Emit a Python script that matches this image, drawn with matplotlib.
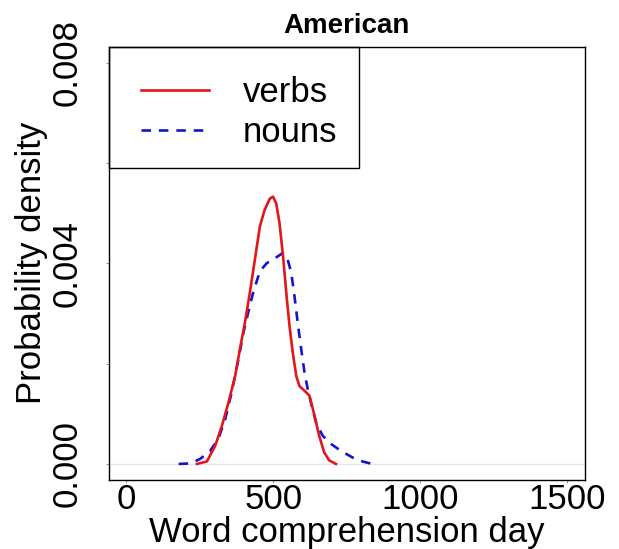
import matplotlib
matplotlib.use("Agg")
import matplotlib.pyplot as plt
from matplotlib.patches import Rectangle

plt.rcParams['font.family'] = ['Liberation Sans', 'DejaVu Sans']

# ---- data ----
verbs_x = [240, 274, 302, 325, 347, 370, 386, 403, 420, 437, 454, 470, 488, 499,
           510, 521, 533, 544, 555, 566, 578, 589, 606, 623, 640, 656, 673, 690, 713]
verbs_y = [0.0, 0.00005, 0.00036, 0.00076, 0.00122, 0.00175, 0.00228, 0.00281,
           0.00341, 0.00407, 0.00473, 0.00506, 0.00529, 0.00533, 0.00519, 0.00480,
           0.00414, 0.00341, 0.00275, 0.00222, 0.00175, 0.00155, 0.00146, 0.00136,
           0.00096, 0.00056, 0.00023, 0.00007, 0.0]

nouns_x = [178, 218, 251, 285, 313, 336, 358, 381, 398, 414, 431, 454, 477, 505,
           533, 549, 561, 572, 583, 595, 606, 617, 628, 645, 668, 696, 730, 769,
           803, 836]
nouns_y = [0.0, 0.00001, 0.00010, 0.00026, 0.00050, 0.00089, 0.00142, 0.00208,
           0.00261, 0.00301, 0.00341, 0.00384, 0.00400, 0.00410, 0.00421, 0.00407,
           0.00381, 0.00334, 0.00281, 0.00228, 0.00182, 0.00149, 0.00122, 0.00083,
           0.00056, 0.00040, 0.00026, 0.00013, 0.00005, 0.0]

x_ticks = [0, 500, 1000, 1500]
y_ticks = [0.000, 0.002, 0.004, 0.006, 0.008]
y_tick_labels = ["0.000", "", "0.004", "", "0.008"]

title = "American"
xlabel = "Word comprehension day"
ylabel = "Probability density"
series_labels = ["verbs", "nouns"]

# ---- figure ----
W, H = 619, 549
fig = plt.figure(figsize=(W / 100, H / 100), dpi=100)
ax = fig.add_axes([108.7 / W, 1 - 480 / H, (585 - 108.7) / W, (480 - 46.7) / H])

ax.axhline(0, color='#e6e6e6', lw=0.9, zorder=1)
ax.plot(verbs_x, verbs_y, color='#e3161b', lw=1.9, solid_joinstyle='round',
        label=series_labels[0], zorder=3)
ax.plot(nouns_x, nouns_y, color='#1414cc', lw=1.9, linestyle=(0, (3.6, 3.0)),
        label=series_labels[1], zorder=2)

ax.set_xlim(-60, 1560)
ax.set_ylim(-0.00032, 0.00832)

ax.set_xticks(x_ticks)
ax.set_xticklabels([str(v) for v in x_ticks], fontsize=25)
ax.set_yticks(y_ticks)
ax.set_yticklabels(y_tick_labels, fontsize=25, rotation=90, va='center')
ax.tick_params(axis='both', direction='out', length=2, width=0.6, color='#888888')
ax.tick_params(axis='x', pad=0)
ax.tick_params(axis='y', pad=16)

for s in ax.spines.values():
    s.set_linewidth(1.0)
    s.set_color('black')

ax.set_xlabel(xlabel, fontsize=25, labelpad=0)
ax.set_ylabel(ylabel, fontsize=25, labelpad=2)
ax.set_title(title, fontsize=20, fontweight='bold', pad=10)

# legend frame (R style, top-left) and entries
ax.add_patch(Rectangle((0, 0.72), 0.5255, 0.28, transform=ax.transAxes,
                       fill=False, edgecolor='black', lw=1.0, zorder=5, clip_on=False))
leg = ax.legend(loc='upper left', bbox_to_anchor=(0.0678, 0.9325), frameon=False,
                fontsize=25, handlelength=1.96, handletextpad=0.98, borderpad=0,
                borderaxespad=0, labelspacing=0.2)

fig.savefig("out.png", dpi=100)
